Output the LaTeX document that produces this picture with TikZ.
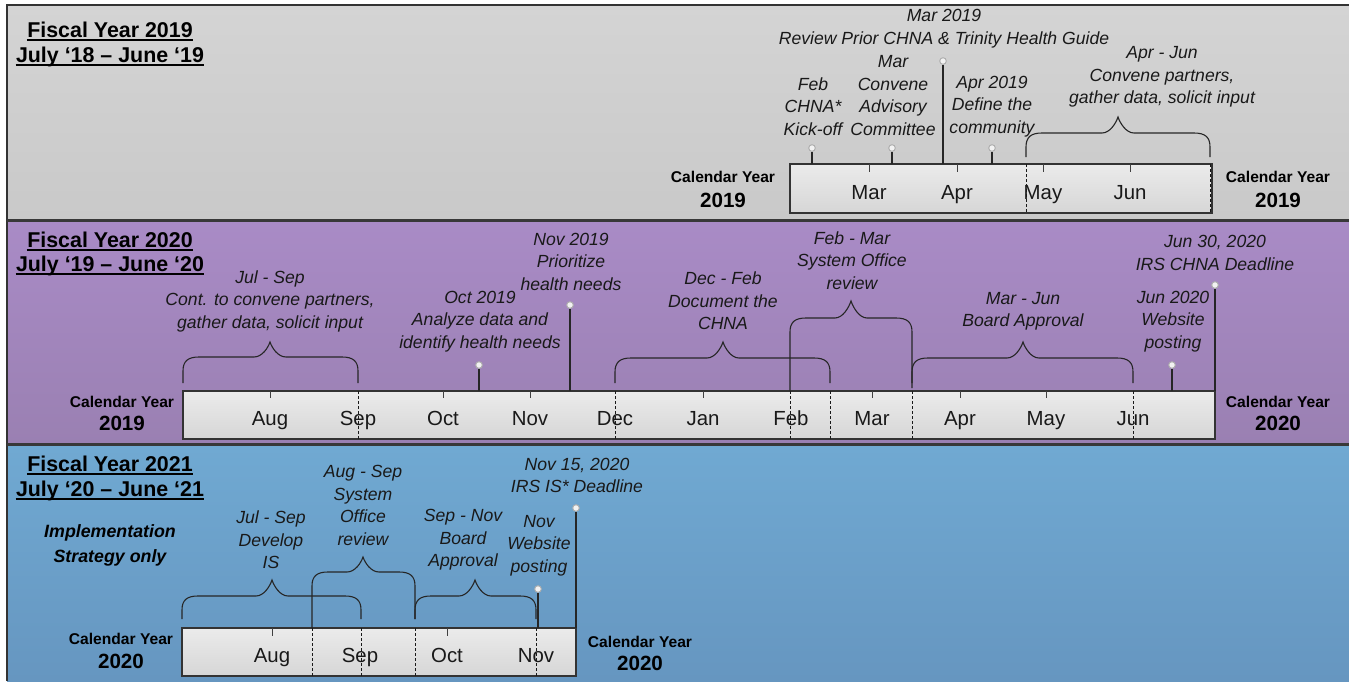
\documentclass[tikz,border=0pt]{standalone}
\usepackage{fontspec}
\setmainfont{Liberation Sans}
\usetikzlibrary{calc}
\definecolor{gtop}{HTML}{D4D4D4}
\definecolor{gbot}{HTML}{C9C9C9}
\definecolor{ptop}{HTML}{A98BC6}
\definecolor{pbot}{HTML}{9A80B2}
\definecolor{btop}{HTML}{70A9D2}
\definecolor{bbot}{HTML}{6696C0}
\definecolor{boxtop}{HTML}{EBEBEB}
\definecolor{boxbot}{HTML}{D6D6D6}
\tikzset{
 lbl/.style={font=\fontsize{8.8}{11.25}\selectfont\itshape, align=center, inner sep=0pt, text=black!90},
 mon/.style={font=\fontsize{10.2}{12}\selectfont, inner sep=0pt, text=black!90, text height=7.3pt, text depth=0pt},
 cyt/.style={font=\fontsize{7.8}{9}\selectfont\bfseries, inner sep=0pt, text height=5.6pt, text depth=0pt},
 cyn/.style={font=\fontsize{10.3}{12}\selectfont\bfseries, inner sep=0pt, text height=7.4pt, text depth=0pt},
 ttl/.style={font=\fontsize{10.7}{12}\selectfont\bfseries, inner sep=0pt, anchor=base},
 ulin/.style={draw=black, line width=1pt},
 impl/.style={font=\fontsize{8.9}{12.5}\selectfont\bfseries\itshape, align=center, inner sep=0pt},
 pinhead/.style={circle, draw=gray!65, fill=gray!10, line width=0.45pt, inner sep=0pt, minimum size=3.3pt},
 pinline/.style={draw=black!85, line width=0.6pt},
 tickline/.style={draw=black!75, line width=0.5pt},
 dsh/.style={draw=black!90, line width=0.45pt, dash pattern=on 1.5pt off 1pt},
 brc/.style={draw=black!85, line width=0.55pt},
 tbox/.style={draw=black!80, line width=0.6pt, top color=boxtop, bottom color=boxbot},
 sepline/.style={draw=black!78, line width=1.2pt},
}
% xL xR xp yp h eL eR
\newcommand{\tlbrace}[7]{%
 \draw[brc] (#1,#6) -- (#1,{#5+14}) .. controls (#1,{#5+4}) and ({#1+5},#5) .. ({#1+16},#5)
  -- ({#3-16},#5) .. controls ({#3-8},#5) and ({#3-2},{#4+6}) .. (#3,#4)
  .. controls ({#3+2},{#4+6}) and ({#3+8},#5) .. ({#3+16},#5)
  -- ({#2-16},#5) .. controls ({#2-5},#5) and (#2,{#5+4}) .. (#2,{#5+14}) -- (#2,#7);}
\begin{document}
\begin{tikzpicture}[x=0.5pt,y=-0.5pt]
\useasboundingbox (0,0) rectangle (1349,681);
\fill[white] (0,0) rectangle (1349,681);
% ---------- bands
\path[top color=gtop,bottom color=gbot] (7,5) rectangle (1349,220);
\path[top color=ptop,bottom color=pbot] (7,221) rectangle (1349,444);
\path[top color=btop,bottom color=bbot] (7,446) rectangle (1349,681);
\draw[black!80,line width=0.6pt] (7,681) -- (7,5) -- (1349,5);
\draw[sepline] (7,220.5) -- (1349,220.5);
\draw[sepline] (7,444.5) -- (1349,444.5);

% ================= FY 2019 =================
\node[ttl] (fy19a) at (110,37) {Fiscal Year 2019};
\node[ttl] (fy19b) at (110,62) {July ‘18 – June ‘19};
\draw[ulin] ([yshift=-1.7pt]fy19a.base west) -- ([yshift=-1.7pt]fy19a.base east);
\draw[ulin] ([yshift=-1.7pt]fy19b.base west) -- ([yshift=-1.7pt]fy19b.base east);

\path[tbox] (790,164) rectangle (1212,213);
\draw[dsh] (1026,164) -- (1026,213);
\draw[dsh] (1210,164) -- (1210,213);
\foreach \x in {869,957,1043,1130} \draw[tickline] (\x,164) -- (\x,172);
\node[mon] (m1mar) at (869,192) {Mar};
\node[mon] (m1apr) at (957,192) {Apr};
\node[mon] (m1may) at (1043,192) {May};
\node[mon] (m1jun) at (1130,192) {Jun};

\node[cyt] (cy1la) at (723,177) {Calendar Year};
\node[cyn] (cy1lb) at (723,200) {2019};
\node[cyt] (cy1ra) at (1278,177) {Calendar Year};
\node[cyn] (cy1rb) at (1278,200) {2019};

\node[pinhead] (p1feb) at (812,148) {};
\coordinate (p1febb) at (812,164);
\draw[pinline] (p1feb) -- (p1febb);
\node[pinhead] (p1mar) at (892,148) {};
\coordinate (p1marb) at (892,164);
\draw[pinline] (p1mar) -- (p1marb);
\node[pinhead] (p1apr) at (992,148) {};
\coordinate (p1aprb) at (992,164);
\draw[pinline] (p1apr) -- (p1aprb);
\node[pinhead] (p1rev) at (943,61) {};
\coordinate (p1revb) at (943,164);
\draw[pinline,line width=0.8pt] (p1rev) -- (p1revb);

\tlbrace{1026}{1210}{1118}{117}{133}{157}{157}

\node[lbl] (l1rev) at (944,28.5) {Mar 2019\\Review Prior CHNA \& Trinity Health Guide};
\node[lbl] (l1feb) at (813,106.5) {Feb\\CHNA*\\Kick-off};
\node[lbl] (l1mar) at (893,95.5) {Mar\\Convene\\Advisory\\Committee};
\node[lbl] (l1apr) at (992,106.5) {Apr 2019\\Define the\\community};
\node[lbl] (l1aj) at (1162,77) {Apr - Jun\\Convene partners,\\gather data, solicit input};

% ================= FY 2020 =================
\node[ttl] (fy20a) at (110,247) {Fiscal Year 2020};
\node[ttl] (fy20b) at (110,271) {July ‘19 – June ‘20};
\draw[ulin] ([yshift=-1.7pt]fy20a.base west) -- ([yshift=-1.7pt]fy20a.base east);
\draw[ulin] ([yshift=-1.7pt]fy20b.base west) -- ([yshift=-1.7pt]fy20b.base east);

\path[tbox] (183,391) rectangle (1215,439);
\foreach \x in {358,615,790,830,912,1133} \draw[dsh] (\x,391) -- (\x,439);
\foreach \x in {270,443,530,703,872,960,1046} \draw[tickline] (\x,391) -- (\x,398);
\node[mon] (m2aug) at (270,418) {Aug};
\node[mon] (m2sep) at (358,418) {Sep};
\node[mon] (m2oct) at (443,418) {Oct};
\node[mon] (m2nov) at (530,418) {Nov};
\node[mon] (m2dec) at (615,418) {Dec};
\node[mon] (m2jan) at (703,418) {Jan};
\node[mon] (m2feb) at (791,418) {Feb};
\node[mon] (m2mar) at (872,418) {Mar};
\node[mon] (m2apr) at (960,418) {Apr};
\node[mon] (m2may) at (1046,418) {May};
\node[mon] (m2jun) at (1133,418) {Jun};

\node[cyt] (cy2la) at (122,402) {Calendar Year};
\node[cyn] (cy2lb) at (122,423) {2019};
\node[cyt] (cy2ra) at (1278,402) {Calendar Year};
\node[cyn] (cy2rb) at (1278,423) {2020};

\node[pinhead] (p2oct) at (479,365) {};
\coordinate (p2octb) at (479,391);
\draw[pinline] (p2oct) -- (p2octb);
\node[pinhead] (p2nov) at (570,305) {};
\coordinate (p2novb) at (570,391);
\draw[pinline] (p2nov) -- (p2novb);
\node[pinhead] (p2web) at (1172,365) {};
\coordinate (p2webb) at (1172,391);
\draw[pinline] (p2web) -- (p2webb);
\node[pinhead] (p2irs) at (1215,285) {};
\coordinate (p2irsb) at (1215,391);
\draw[pinline] (p2irs) -- (p2irsb);

\tlbrace{183}{358}{270}{342}{357}{383}{383}
\tlbrace{615}{830}{723}{342}{358}{383}{383}
\tlbrace{790}{912}{851}{301}{318}{391}{388}
\tlbrace{912}{1133}{1023}{342}{358}{383}{383}

\node[lbl] (l2js) at (270,301) {Jul - Sep\\Cont. to convene partners,\\gather data, solicit input};
\node[lbl] (l2oct) at (480,321.5) {Oct 2019\\Analyze data and\\identify health needs};
\node[lbl] (l2nov) at (571,261.5) {Nov 2019\\Prioritize\\health needs};
\node[lbl] (l2df) at (723,301) {Dec - Feb\\Document the\\CHNA};
\node[lbl] (l2fm) at (852,260.5) {Feb - Mar\\System Office\\review};
\node[lbl] (l2mj) at (1023,311.5) {Mar - Jun\\Board Approval};
\node[lbl] (l2web) at (1173,321.5) {Jun 2020\\Website\\posting};
\node[lbl] (l2irs) at (1215,253) {Jun 30, 2020\\IRS CHNA Deadline};

% ================= FY 2021 =================
\node[ttl] (fy21a) at (110,471) {Fiscal Year 2021};
\node[ttl] (fy21b) at (110,496) {July ‘20 – June ‘21};
\draw[ulin] ([yshift=-1.7pt]fy21a.base west) -- ([yshift=-1.7pt]fy21a.base east);
\draw[ulin] ([yshift=-1.7pt]fy21b.base west) -- ([yshift=-1.7pt]fy21b.base east);
\node[impl] (impl) at (110,545.5) {Implementation\\Strategy only};

\path[tbox] (182,628) rectangle (576,676);
\foreach \x in {312,361,415,536} \draw[dsh] (\x,628) -- (\x,676);
\foreach \x in {272,447} \draw[tickline] (\x,628) -- (\x,636);
\node[mon] (m3aug) at (272,655) {Aug};
\node[mon] (m3sep) at (360,655) {Sep};
\node[mon] (m3oct) at (447,655) {Oct};
\node[mon] (m3nov) at (536,655) {Nov};

\node[cyt] (cy3la) at (121,639) {Calendar Year};
\node[cyn] (cy3lb) at (121,661) {2020};
\node[cyt] (cy3ra) at (640,642) {Calendar Year};
\node[cyn] (cy3rb) at (640,663) {2020};

\node[pinhead] (p3web) at (538,589) {};
\coordinate (p3webb) at (538,628);
\draw[pinline] (p3web) -- (p3webb);
\node[pinhead] (p3irs) at (576,508) {};
\coordinate (p3irsb) at (576,628);
\draw[pinline] (p3irs) -- (p3irsb);

\tlbrace{182}{361}{272}{580}{596}{619}{619}
\tlbrace{312}{415}{363}{557}{572}{628}{619}
\tlbrace{415}{536}{475}{580}{596}{619}{619}

\node[lbl] (l3js) at (271,540) {Jul - Sep\\Develop\\IS};
\node[lbl] (l3as) at (363,505.5) {Aug - Sep\\System\\Office\\review};
\node[lbl] (l3sn) at (463,540) {Sep - Nov\\Board\\Approval};
\node[lbl] (l3web) at (539,545.5) {Nov\\Website\\posting};
\node[lbl] (l3irs) at (577,475.5) {Nov 15, 2020\\IRS IS* Deadline};
\end{tikzpicture}
\end{document}
